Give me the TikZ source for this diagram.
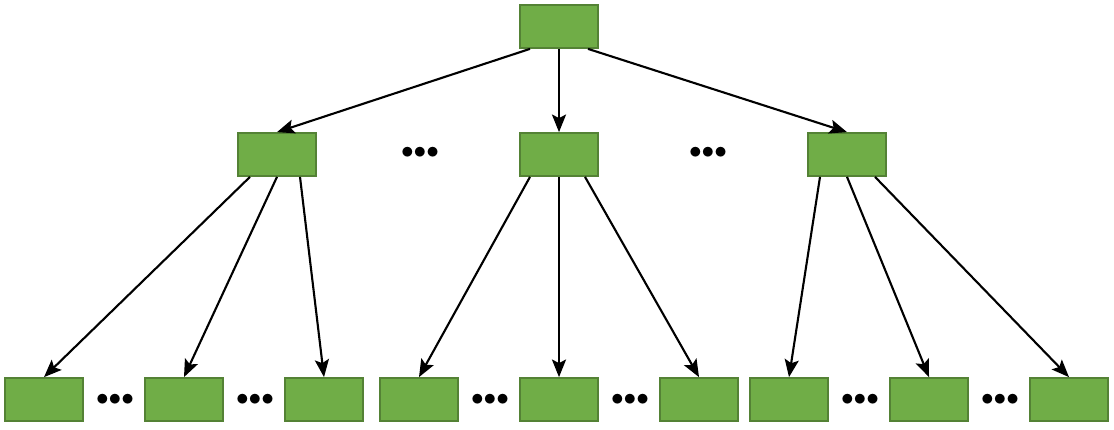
\documentclass[tikz,border=0pt]{standalone}
\usepackage{xcolor}
\usepackage{tikz}
\usetikzlibrary{arrows.meta, positioning, calc}
\definecolor{nodegreen}{HTML}{70AD47}
\definecolor{edgegreen}{HTML}{548235}

\begin{document}
\begin{tikzpicture}[
  x=0.02cm, y=-0.02cm,
  box/.style={rectangle, draw=edgegreen, fill=nodegreen, line width=1pt,
              minimum width=1.56cm, minimum height=0.86cm, inner sep=0pt},
  dots/.style={font=\Large, inner sep=0pt},
  link/.style={draw=black, line width=1.2pt, -{Stealth[length=10pt, width=8pt, inset=2pt]}},
]
  \useasboundingbox (0,0) rectangle (1114,429);
  % levels
  \node[box] (root) at (559,26.5) {};
  \node[box] (midA) at (277,154.5) {};
  \node[box] (midB) at (559,154.5) {};
  \node[box] (midC) at (847,154.5) {};
  \node[box] (leafA1) at (44,399.5) {};
  \node[box] (leafA2) at (184,399.5) {};
  \node[box] (leafA3) at (324,399.5) {};
  \node[box] (leafB1) at (419,399.5) {};
  \node[box] (leafB2) at (559,399.5) {};
  \node[box] (leafB3) at (699,399.5) {};
  \node[box] (leafC1) at (789,399.5) {};
  \node[box] (leafC2) at (929,399.5) {};
  \node[box] (leafC3) at (1069,399.5) {};
  % gaps
  \node[dots] (gapAB) at (420,153) {$\bullet\mkern-4mu\bullet\mkern-4mu\bullet$};
  \node[dots] (gapBC) at (708,153) {$\bullet\mkern-4mu\bullet\mkern-4mu\bullet$};
  \foreach \name/\x in {gA1/115, gA2/255, gB1/490, gB2/630, gC1/860, gC2/1000}
    \node[dots] (\name) at (\x,400) {$\bullet\mkern-4mu\bullet\mkern-4mu\bullet$};
  % arrows
  \draw[link] ($(root.south)+(-29,0)$) -- (midA.north);
  \draw[link] (root.south) -- (midB.north);
  \draw[link] ($(root.south)+(29,0)$) -- (midC.north);
  \draw[link] ($(midA.south)+(-27,0)$) -- (leafA1.north);
  \draw[link] (midA.south) -- (leafA2.north);
  \draw[link] ($(midA.south)+(23,0)$) -- (leafA3.north);
  \draw[link] ($(midB.south)+(-29,0)$) -- (leafB1.north);
  \draw[link] (midB.south) -- (leafB2.north);
  \draw[link] ($(midB.south)+(26,0)$) -- (leafB3.north);
  \draw[link] ($(midC.south)+(-27,0)$) -- (leafC1.north);
  \draw[link] (midC.south) -- (leafC2.north);
  \draw[link] ($(midC.south)+(28,0)$) -- (leafC3.north);
\end{tikzpicture}
\end{document}
